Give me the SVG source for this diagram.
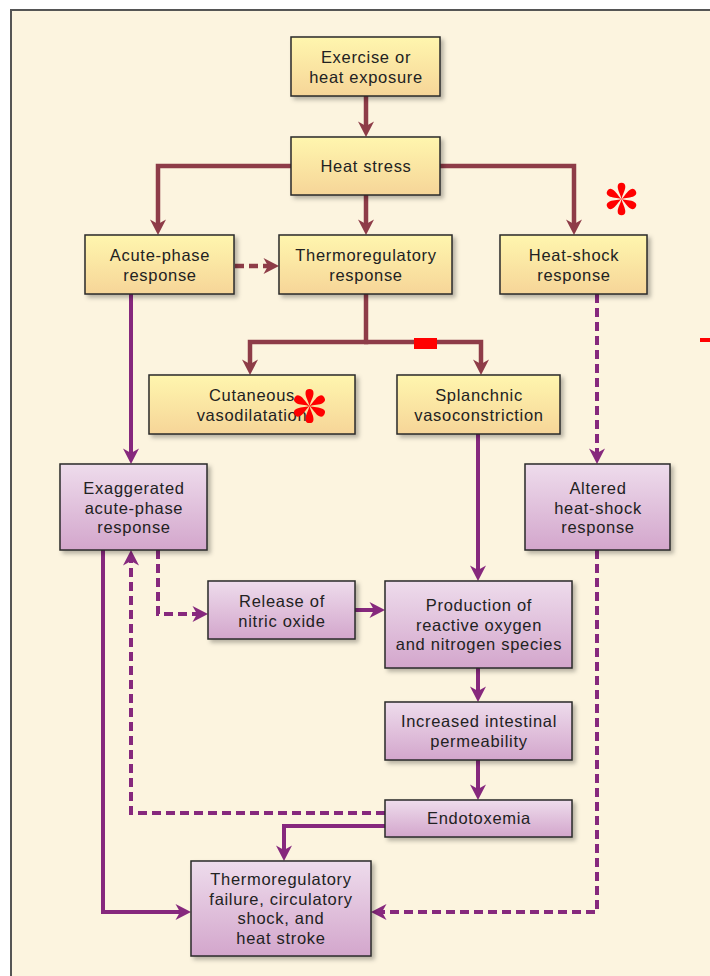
<svg xmlns="http://www.w3.org/2000/svg" width="710" height="976" viewBox="0 0 710 976">
<defs>
<linearGradient id="gy" x1="0" y1="0" x2="0" y2="1">
<stop offset="0" stop-color="#FFF6AE"/>
<stop offset="1" stop-color="#F6D598"/>
</linearGradient>
<linearGradient id="gp" x1="0" y1="0" x2="0" y2="1">
<stop offset="0" stop-color="#EEDCEC"/>
<stop offset="1" stop-color="#D3A6CC"/>
</linearGradient>
<filter id="sh" x="-10%" y="-10%" width="125%" height="130%">
<feDropShadow dx="3" dy="3" stdDeviation="2" flood-color="#000" flood-opacity="0.28"/>
</filter>
<marker id="ab" markerUnits="userSpaceOnUse" viewBox="-10 -10 20 20" refX="0" refY="0" markerWidth="20" markerHeight="20" orient="auto" overflow="visible">
<path d="M8,0 L-7.5,-8 L-3,0 L-7.5,8 Z" fill="#8E3C48"/>
</marker>
<marker id="ap" markerUnits="userSpaceOnUse" viewBox="-10 -10 20 20" refX="0" refY="0" markerWidth="20" markerHeight="20" orient="auto" overflow="visible">
<path d="M8,0 L-7.5,-8 L-3,0 L-7.5,8 Z" fill="#86287D"/>
</marker>
<g id="petals">
<path id="pt" d="M0,0 C-0.8,-4 -4,-9 -3.8,-12.5 A3.8,3.8 0 0 1 3.8,-12.5 C4,-9 0.8,-4 0,0 Z"/>
<use href="#pt" transform="rotate(60)"/>
<use href="#pt" transform="rotate(120)"/>
<use href="#pt" transform="rotate(180)"/>
<use href="#pt" transform="rotate(240)"/>
<use href="#pt" transform="rotate(300)"/>
</g>
</defs>
<style>
.by{fill:url(#gy);stroke:#2a2a2a;stroke-width:1.5;filter:url(#sh)}
.bp{fill:url(#gp);stroke:#2a2a2a;stroke-width:1.5;filter:url(#sh)}
text{font-family:"Liberation Sans",Arial,sans-serif;font-size:16.5px;letter-spacing:0.7px;fill:#222;text-anchor:middle}
.cb{fill:none;stroke:#8E3C48;stroke-width:4.5;marker-end:url(#ab)}
.cp{fill:none;stroke:#86287D;stroke-width:4;marker-end:url(#ap)}
.d{stroke-dasharray:9 5}
</style>
<rect x="11" y="10" width="720" height="990" fill="#FCF4DF" stroke="#555" stroke-width="2"/>

<g id="connectors">
<path class="cb" d="M366,96 V129"/>
<path class="cb" d="M291,166 H158 V227"/>
<path class="cb" d="M440,166 H574 V227"/>
<path class="cb" d="M366,195 V227"/>
<path class="cb d" d="M235,266 H271"/>
<path class="cb" d="M366,294 V342 H250 V367"/>
<path class="cb" d="M364,342 H481 V367"/>
<path class="cp" d="M478,434 V573"/>
<path class="cp d" d="M597,294 V456"/>
<path class="cp" d="M131,294 V456"/>
<path class="cp d" d="M158,550 V614 H200"/>
<path class="cp" d="M355,610 H377"/>
<path class="cp" d="M478,668 V694"/>
<path class="cp" d="M478,760 V792"/>
<path class="cp d" d="M385,813 H131 V558"/>
<path class="cp" d="M385,826 H284 V853"/>
<path class="cp" d="M103,550 V912 H183"/>
<path class="cp d" d="M597,550 V912 H379"/>
</g>

<g id="n-exercise"><rect class="by" x="291" y="37" width="149" height="59"/><text x="366" y="63">Exercise or</text><text x="366" y="83">heat exposure</text></g>
<g id="n-heatstress"><rect class="by" x="291" y="137" width="149" height="58"/><text x="366" y="172">Heat stress</text></g>
<g id="n-acute"><rect class="by" x="85" y="235" width="149" height="59"/><text x="160" y="261">Acute-phase</text><text x="160" y="281">response</text></g>
<g id="n-thermo"><rect class="by" x="279" y="235" width="173" height="59"/><text x="366" y="261">Thermoregulatory</text><text x="366" y="281">response</text></g>
<g id="n-heatshock"><rect class="by" x="500" y="235" width="147" height="59"/><text x="574" y="261">Heat-shock</text><text x="574" y="281">response</text></g>
<g id="n-cutaneous"><rect class="by" x="149" y="375" width="206" height="59"/><text x="252" y="401">Cutaneous</text><text x="252" y="421">vasodilatation</text></g>
<g id="n-splanchnic"><rect class="by" x="397" y="375" width="163" height="59"/><text x="479" y="401">Splanchnic</text><text x="479" y="421">vasoconstriction</text></g>
<g id="n-exaggerated"><rect class="bp" x="60" y="464" width="147" height="86"/><text x="134" y="494">Exaggerated</text><text x="134" y="514">acute-phase</text><text x="134" y="533">response</text></g>
<g id="n-altered"><rect class="bp" x="525" y="464" width="145" height="86"/><text x="598" y="494">Altered</text><text x="598" y="514">heat-shock</text><text x="598" y="533">response</text></g>
<g id="n-nitric"><rect class="bp" x="208" y="581" width="147" height="58"/><text x="282" y="607">Release of</text><text x="282" y="627">nitric oxide</text></g>
<g id="n-production"><rect class="bp" x="385" y="581" width="187" height="87"/><text x="479" y="611">Production of</text><text x="479" y="631">reactive oxygen</text><text x="479" y="650">and nitrogen species</text></g>
<g id="n-intestinal"><rect class="bp" x="385" y="702" width="187" height="58"/><text x="479" y="727">Increased intestinal</text><text x="479" y="747">permeability</text></g>
<g id="n-endotoxemia"><rect class="bp" x="385" y="800" width="187" height="37"/><text x="479" y="824">Endotoxemia</text></g>
<g id="n-failure"><rect class="bp" x="191" y="861" width="180" height="95"/><text x="281" y="885">Thermoregulatory</text><text x="281" y="905">failure, circulatory</text><text x="281" y="924">shock, and</text><text x="281" y="944">heat stroke</text></g>

<g id="marks" fill="#FF0000">
<rect x="414" y="338" width="23" height="11"/>
<rect x="700" y="338" width="10" height="4"/>
<use href="#petals" transform="translate(621.5,199)"/>
<use href="#petals" transform="translate(309.5,406) scale(1.05)"/>
</g>
</svg>
